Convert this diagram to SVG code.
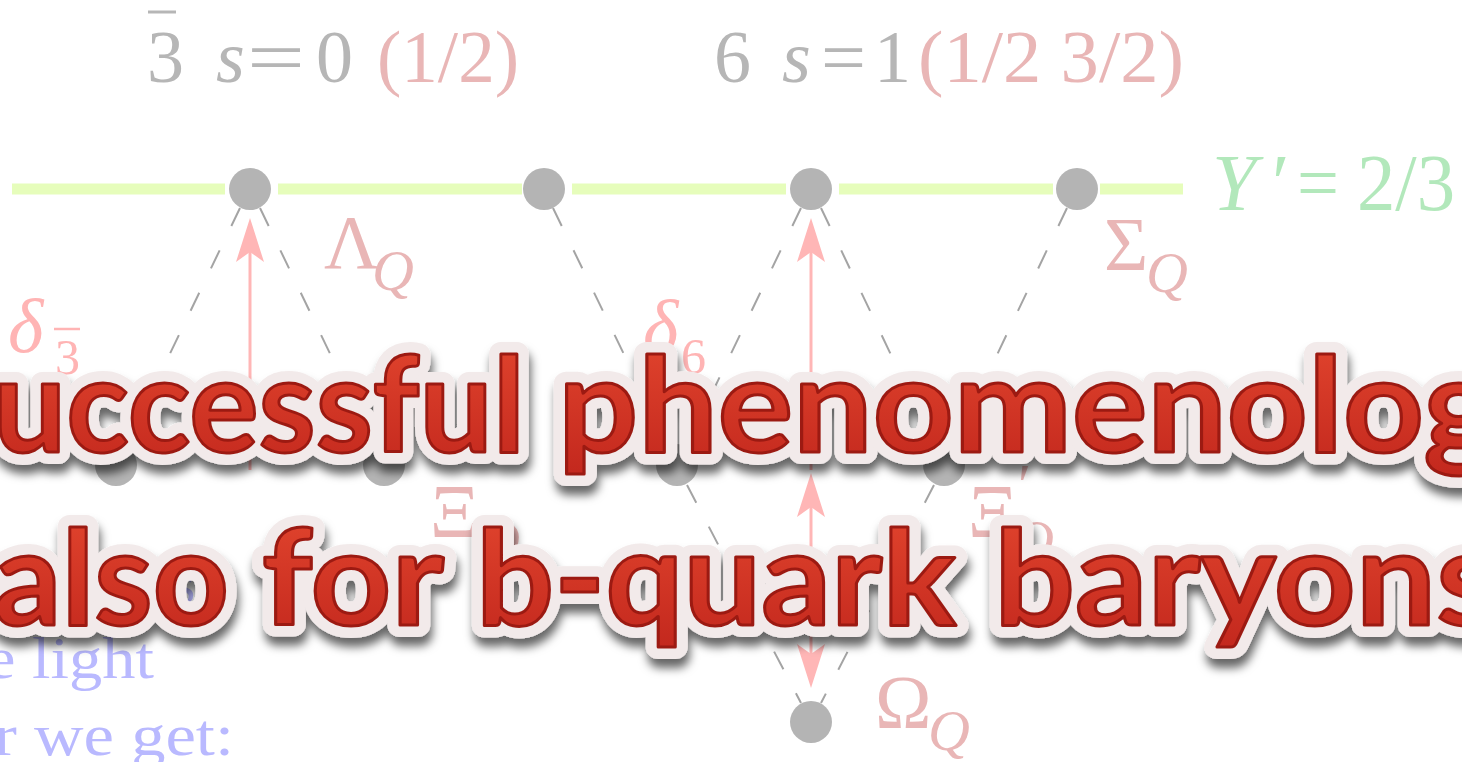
<svg xmlns="http://www.w3.org/2000/svg" width="1462" height="762" viewBox="0 0 1462 762">
<style>
.math{font-family:"Liberation Serif","Times New Roman",serif}
.gray{fill:#b6b6b6}
.pk{fill:#e9b6b6}
.dl{fill:#ffb4b4}
.it{font-style:italic}
.gl{stroke:#e6fdbb;stroke-width:11}
.dash{stroke:#a4a4a4;stroke-width:2;stroke-dasharray:20 27;fill:none}
.arr{stroke:#ffb6b6;stroke-width:3;fill:none}
.node{fill:#b4b4b4}
.blue{font-family:"Liberation Serif","Times New Roman",serif;fill:#b9b9ff;font-size:60px}
.big{font-family:Lato,"Open Sans",sans-serif;font-weight:bold;font-size:132px}
.halo{fill:#f2eaea;stroke:#f2eaea;stroke-width:24;stroke-linejoin:round}
.red{fill:url(#redg);stroke:#9c1a12;stroke-width:3;stroke-linejoin:round}
</style>
<defs>
<linearGradient id="redg" x1="0" y1="0" x2="0" y2="1">
<stop offset="0" stop-color="#e4472f"/>
<stop offset="1" stop-color="#c2271d"/>
</linearGradient>
<filter id="shadow" filterUnits="userSpaceOnUse" x="-60" y="250" width="1600" height="500">
<feDropShadow dx="2" dy="9" stdDeviation="5" flood-color="#000" flood-opacity="0.6"/>
</filter>
<marker id="ah" markerUnits="userSpaceOnUse" viewBox="-20 -20 60 40" refX="0" refY="0" markerWidth="60" markerHeight="40" orient="auto-start-reverse" overflow="visible">
<path d="M30,0 L-14,-14 L-4,0 L-14,14 Z" fill="#ffb6b6"/>
</marker>
</defs>
<rect x="0" y="0" width="1462" height="762" fill="#ffffff"/>

<g id="title-antitriplet" class="math">
<line x1="148" y1="12" x2="176" y2="12" stroke="#b6b6b6" stroke-width="3"/>
<text y="82" font-size="74"><tspan x="147" class="gray">3</tspan><tspan x="216" class="gray it">s</tspan><tspan x="247" class="gray" textLength="58" lengthAdjust="spacingAndGlyphs">=</tspan><tspan x="316" class="gray">0</tspan><tspan x="377" class="pk" textLength="142" lengthAdjust="spacingAndGlyphs">(1/2)</tspan></text>
</g>
<g id="title-sextet" class="math">
<text y="82" font-size="74"><tspan x="714" class="gray">6</tspan><tspan x="782" class="gray it">s</tspan><tspan x="821" class="gray" textLength="45" lengthAdjust="spacingAndGlyphs">=</tspan><tspan x="874" class="gray">1</tspan><tspan x="918" class="pk" textLength="266" lengthAdjust="spacingAndGlyphs">(1/2 3/2)</tspan></text>
</g>

<g id="yprime-line">
<line class="gl" x1="12" y1="189" x2="225" y2="189"/>
<line class="gl" x1="278" y1="189" x2="522" y2="189"/>
<line class="gl" x1="572" y1="189" x2="786" y2="189"/>
<line class="gl" x1="839" y1="189" x2="1053" y2="189"/>
<line class="gl" x1="1100" y1="189" x2="1183" y2="189"/>
<text class="math" y="210" font-size="80" fill="#b2e8bb"><tspan x="1212" font-style="italic">Y</tspan><tspan x="1272">′</tspan><tspan x="1297" textLength="42" lengthAdjust="spacingAndGlyphs">=</tspan><tspan x="1357" textLength="98" lengthAdjust="spacingAndGlyphs">2/3</tspan></text>
</g>

<g id="connectors">
<line class="dash" x1="240" y1="208" x2="126" y2="445"/>
<line class="dash" x1="260" y1="208" x2="374" y2="445"/>
<line class="dash" x1="553" y1="208" x2="668" y2="445"/>
<line class="dash" x1="801" y1="208" x2="687" y2="445"/>
<line class="dash" x1="821" y1="208" x2="934" y2="445"/>
<line class="dash" x1="1067" y1="208" x2="954" y2="445"/>
<line class="dash" x1="687" y1="485" x2="801" y2="703"/>
<line class="dash" x1="934" y1="485" x2="821" y2="703"/>
<line class="arr" x1="250" y1="470" x2="250" y2="248" marker-end="url(#ah)"/>
<line class="arr" x1="811" y1="470" x2="811" y2="248" marker-end="url(#ah)"/>
<line class="arr" x1="811" y1="503" x2="811" y2="658" marker-start="url(#ah)" marker-end="url(#ah)"/>
</g>

<g id="node-lambda"><circle class="node" cx="250" cy="189" r="21"/></g>
<g id="node-sextet-top-left"><circle class="node" cx="544" cy="189" r="21"/></g>
<g id="node-sextet-top-mid"><circle class="node" cx="811" cy="189" r="21"/></g>
<g id="node-sigma"><circle class="node" cx="1077" cy="189" r="21"/></g>
<g id="node-xi-left"><circle class="node" cx="116" cy="465" r="21"/></g>
<g id="node-xi-right"><circle class="node" cx="384" cy="465" r="21"/></g>
<g id="node-xiprime-left"><circle class="node" cx="677" cy="465" r="21"/></g>
<g id="node-xiprime-right"><circle class="node" cx="944" cy="465" r="21"/></g>
<g id="node-omega"><circle class="node" cx="811" cy="722" r="21"/></g>

<g id="labels" class="math">
<text x="324" y="268" font-size="76" class="pk">Λ<tspan x="372" y="290" font-size="58" class="it">Q</tspan></text>
<text x="1104" y="270" font-size="76" class="pk">Σ<tspan x="1146" y="292" font-size="58" class="it">Q</tspan></text>
<text x="430" y="537" font-size="76" class="pk">Ξ<tspan x="478" y="560" font-size="58" class="it">Q</tspan></text>
<text x="968" y="537" font-size="76" class="pk">Ξ<tspan x="1018" y="505" font-size="60">′</tspan><tspan x="1012" y="560" font-size="58" class="it">Q</tspan></text>
<text x="875" y="728" font-size="76" class="pk">Ω<tspan x="928" y="750" font-size="58" class="it">Q</tspan></text>
<text x="8" y="352" font-size="76" class="dl it">δ<tspan x="55" y="374" font-size="50" font-style="normal">3</tspan></text>
<line x1="54" y1="329" x2="80" y2="329" stroke="#ffb4b4" stroke-width="2.5"/>
<text x="643" y="353" font-size="76" class="dl it">δ<tspan x="681" y="373" font-size="50" font-style="normal">6</tspan></text>
</g>

<g id="side-text">
<text class="blue" x="172" y="603">s</text>
<text class="blue" x="-14" y="678" textLength="168" lengthAdjust="spacingAndGlyphs">e light</text>
<text class="blue" x="-6" y="755" textLength="240" lengthAdjust="spacingAndGlyphs">r we get:</text>
</g>

<g id="headline">
<g filter="url(#shadow)">
<text class="big halo" y="452"><tspan x="-7" textLength="532" lengthAdjust="spacingAndGlyphs">uccessful</tspan><tspan x="558" textLength="940" lengthAdjust="spacingAndGlyphs">phenomenolog</tspan></text>
<text class="big halo" y="625"><tspan x="-6" textLength="235" lengthAdjust="spacingAndGlyphs">also</tspan><tspan x="262" textLength="182" lengthAdjust="spacingAndGlyphs">for</tspan><tspan x="476" textLength="480" lengthAdjust="spacingAndGlyphs">b-quark</tspan><tspan x="994" textLength="505" lengthAdjust="spacingAndGlyphs">baryons</tspan></text>
</g>
<text class="big red" y="452"><tspan x="-7" textLength="532" lengthAdjust="spacingAndGlyphs">uccessful</tspan><tspan x="558" textLength="940" lengthAdjust="spacingAndGlyphs">phenomenolog</tspan></text>
<text class="big red" y="625"><tspan x="-6" textLength="235" lengthAdjust="spacingAndGlyphs">also</tspan><tspan x="262" textLength="182" lengthAdjust="spacingAndGlyphs">for</tspan><tspan x="476" textLength="480" lengthAdjust="spacingAndGlyphs">b-quark</tspan><tspan x="994" textLength="505" lengthAdjust="spacingAndGlyphs">baryons</tspan></text>
</g>
</svg>
